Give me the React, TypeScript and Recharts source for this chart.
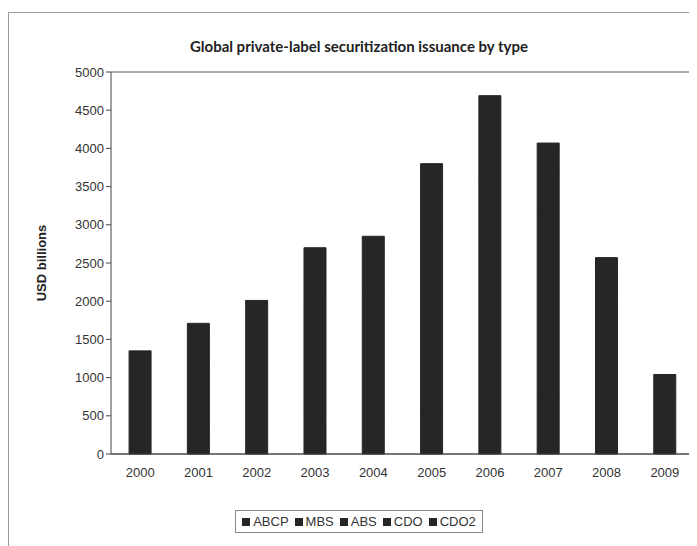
import React from "react";
import {
  Bar,
  XAxis,
  YAxis,
  Legend,
  BarChart,
  CartesianGrid,
} from "recharts";

const years = ["2000", "2001", "2002", "2003", "2004", "2005", "2006", "2007", "2008", "2009"];

// totals; the split by type is not visible in the scan (all bars dark), so it is estimated
const abcp = [300, 350, 350, 400, 450, 550, 700, 800, 450, 150];
const mbs = [600, 850, 1100, 1650, 1700, 2400, 2900, 2400, 1600, 600];
const abs = [350, 400, 450, 500, 500, 550, 600, 500, 400, 250];
const cdo = [80, 90, 90, 120, 160, 250, 410, 320, 110, 35];
const cdo2 = [20, 20, 20, 30, 40, 50, 80, 50, 10, 5];

const yTicks = [0, 500, 1000, 1500, 2000, 2500, 3000, 3500, 4000, 4500, 5000];

const FONT = "'Liberation Sans', Arial, sans-serif";

const series = [
  { key: "ABCP", color: "#262626" },
  { key: "MBS", color: "#262626" },
  { key: "ABS", color: "#262626" },
  { key: "CDO", color: "#262626" },
  { key: "CDO2", color: "#262626" },
];

const data = years.map((year, i) => ({
  year,
  ABCP: abcp[i],
  MBS: mbs[i],
  ABS: abs[i],
  CDO: cdo[i],
  CDO2: cdo2[i],
}));

const LegendBox = () => (
  <div
    style={{
      display: "inline-flex",
      alignItems: "center",
      gap: 6,
      border: "1px solid #888",
      padding: "3px 6px",
      fontFamily: FONT,
      fontSize: 13,
      color: "#333",
      background: "#fff",
    }}
  >
    {series.map((s) => (
      <span key={s.key} style={{ display: "inline-flex", alignItems: "center", gap: 3 }}>
        <span style={{ width: 8, height: 8, background: s.color, display: "inline-block" }} />
        {s.key}
      </span>
    ))}
  </div>
);

const App: React.FC = () => {
  return (
    <div
      style={{
        position: "relative",
        width: 687,
        height: 536,
        marginTop: 4,
        border: "1px solid #999",
        background: "#fff",
      }}
    >
      <div
        style={{
          position: "absolute",
          top: 24,
          left: 0,
          width: 700,
          textAlign: "center",
          fontFamily: "Lato, sans-serif",
          fontWeight: "bold",
          fontSize: 15,
          color: "#222",
        }}
      >
        Global private-label securitization issuance by type
      </div>
      <BarChart
        width={687}
        height={536}
        data={data}
        barCategoryGap="31%"
        margin={{ top: 59, right: 2, bottom: 39, left: 20 }}
      >
        <CartesianGrid vertical={false} stroke="#555" />
        <XAxis
          dataKey="year"
          tickLine={false}
          axisLine={{ stroke: "#444" }}
          tick={{ fill: "#333", fontSize: 13, fontFamily: FONT }}
          tickMargin={8}
          height={30}
        />
        <YAxis
          yAxisId="left"
          domain={[0, 5000]}
          ticks={yTicks}
          interval={0}
          axisLine={{ stroke: "#444" }}
          tickLine={{ stroke: "#444" }}
          tickSize={5}
          tick={{ fill: "#333", fontSize: 13, fontFamily: FONT }}
          width={82}
          label={{
            value: "USD billions",
            angle: -90,
            position: "insideLeft",
            offset: 12,
            style: {
              textAnchor: "middle",
              fontWeight: "bold",
              fontSize: 13,
              fill: "#222",
              fontFamily: FONT,
            },
          }}
        />
        <YAxis
          yAxisId="right"
          orientation="right"
          domain={[0, 5000]}
          ticks={yTicks}
          tick={false}
          tickLine={false}
          axisLine={{ stroke: "#888" }}
          width={0}
        />
        <Legend
          content={() => <LegendBox />}
          wrapperStyle={{ position: "absolute", top: 497, left: 0, width: 700, textAlign: "center", height: 26 }}
        />
        {series.map((s) => (
          <Bar
            key={s.key}
            dataKey={s.key}
            yAxisId="left"
            stackId="a"
            fill={s.color}
            stroke={s.color}
            strokeWidth={1}
            isAnimationActive={false}
          />
        ))}
      </BarChart>
    </div>
  );
};

export default App;
